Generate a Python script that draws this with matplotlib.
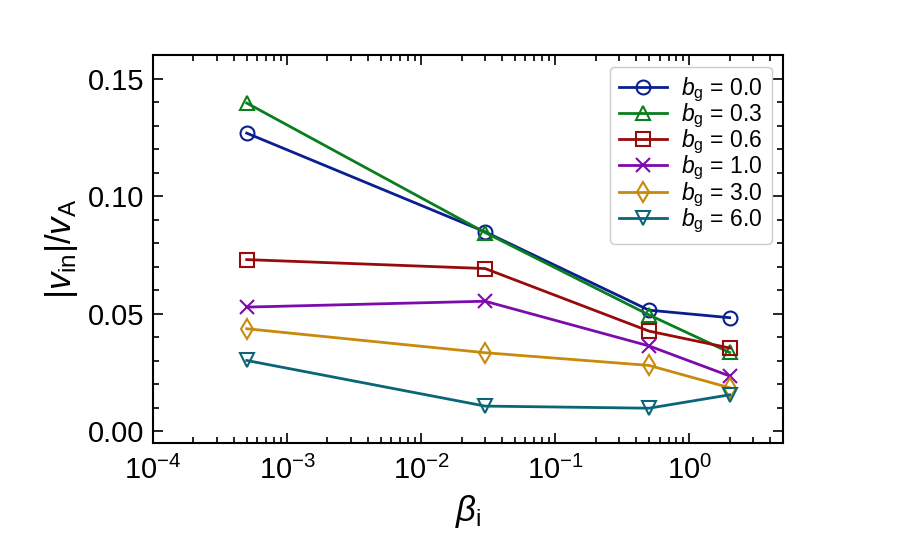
import matplotlib
matplotlib.use('Agg')
import matplotlib.pyplot as plt
from matplotlib.ticker import MultipleLocator, LogLocator

plt.rcParams['font.family'] = ['Liberation Sans', 'DejaVu Sans']
plt.rcParams['mathtext.fontset'] = 'custom'
plt.rcParams['mathtext.rm'] = 'Liberation Sans'
plt.rcParams['mathtext.it'] = 'Liberation Sans:italic'
plt.rcParams['mathtext.bf'] = 'Liberation Sans:bold'

# beta_i values
beta_i = [5e-4, 0.03, 0.5, 2.0]

# |v_in|/v_A for each b_g
bg_labels = ['0.0', '0.3', '0.6', '1.0', '3.0', '6.0']
v_bg00 = [0.1268, 0.0848, 0.0515, 0.0483]
v_bg03 = [0.1396, 0.0845, 0.0495, 0.0335]
v_bg06 = [0.0730, 0.0692, 0.0426, 0.0354]
v_bg10 = [0.0528, 0.0553, 0.0363, 0.0235]
v_bg30 = [0.0436, 0.0334, 0.0280, 0.0185]
v_bg60 = [0.0301, 0.0107, 0.0098, 0.0155]
series = [v_bg00, v_bg03, v_bg06, v_bg10, v_bg30, v_bg60]

colors = ['#0a1f8f', '#0a7d1e', '#990a0a', '#7d0aad', '#c88a0a', '#0a6676']
markers = ['o', '^', 's', 'x', 'd', 'v']

fig = plt.figure(figsize=(9, 5.55), dpi=100)
ax = fig.add_axes([0.17, 0.2018, 0.70, 0.699])

for vals, lab, c, m in zip(series, bg_labels, colors, markers):
    ax.plot(beta_i, vals, color=c, marker=m, markersize=10,
            markerfacecolor='none', markeredgecolor=c, markeredgewidth=1.5,
            linewidth=2, label=r'$b_\mathrm{g}$ = ' + lab)

ax.set_xscale('log')
ax.set_xlim(1e-4, 5)
ax.set_ylim(-0.005, 0.16)
ax.yaxis.set_major_locator(MultipleLocator(0.05))
ax.yaxis.set_minor_locator(MultipleLocator(0.01))
ax.xaxis.set_major_locator(LogLocator(base=10, numticks=10))
ax.xaxis.set_minor_locator(LogLocator(base=10, subs=range(2, 10), numticks=20))
ax.yaxis.set_major_formatter(matplotlib.ticker.FormatStrFormatter('%.2f'))

ax.tick_params(which='both', direction='in', top=True, right=True, width=1.2)
ax.tick_params(which='major', length=7, labelsize=21, pad=6)
ax.tick_params(axis='x', which='major', pad=9)
ax.tick_params(which='minor', length=4)
for sp in ax.spines.values():
    sp.set_linewidth(1.5)

ax.set_xlabel(r'$\beta_\mathrm{i}$', fontsize=25, labelpad=6)
ax.set_ylabel(r'$|v_\mathrm{in}|/v_\mathrm{A}$', fontsize=25, labelpad=6)

ax.legend(loc='upper right', fontsize=16.5, handlelength=2.1, labelspacing=-0.1,
          borderpad=0.4, handletextpad=0.6, framealpha=1, edgecolor='#cccccc')

fig.savefig('out.png', dpi=100)
